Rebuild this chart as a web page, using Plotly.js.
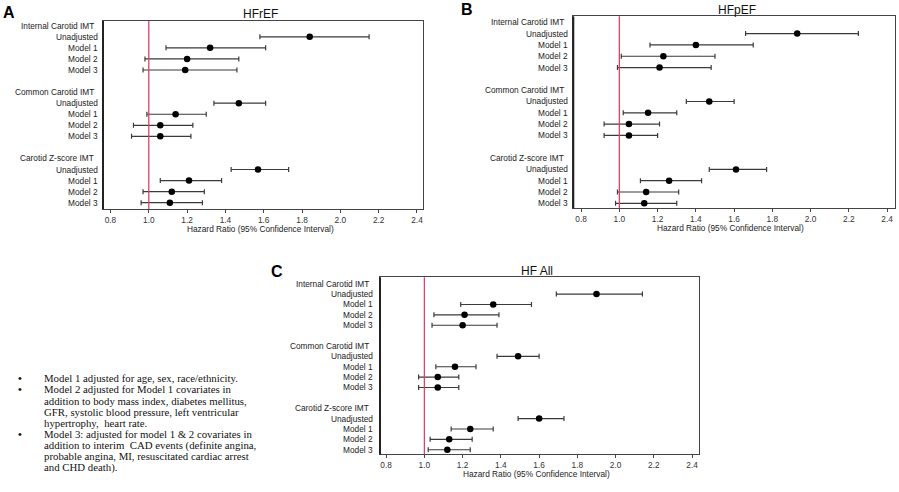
<!DOCTYPE html>
<html>
<head>
<meta charset="utf-8">
<script src="https://cdn.plot.ly/plotly-3.0.1.min.js"></script>
<style>
  html, body { margin: 0; padding: 0; background: #fff; }
  #chart { width: 899px; height: 492px; }
</style>
</head>
<body>
<div id="chart"></div>
<script>
// ---------------- DATA ----------------
const groups = ["Internal Carotid IMT", "Common Carotid IMT", "Carotid Z-score IMT"];
const models = ["Unadjusted", "Model 1", "Model 2", "Model 3"];
const panelTitles = ["HFrEF", "HFpEF", "HF All"];
const panelLetters = ["A", "B", "C"];
const xTitle = "Hazard Ratio (95% Confidence Interval)";
const tickVals = [0.8, 1.0, 1.2, 1.4, 1.6, 1.8, 2.0, 2.2, 2.4];
const refValue = 1.0;

// order: Internal (Unadj, M1, M2, M3), Common (...), Z-score (...)
const hfrefHR = [1.84, 1.32, 1.20, 1.19, 1.47, 1.14, 1.06, 1.06, 1.57, 1.21, 1.12, 1.11];
const hfrefLo = [1.58, 1.09, 0.98, 0.97, 1.34, 0.99, 0.92, 0.91, 1.43, 1.06, 0.97, 0.96];
const hfrefHi = [2.15, 1.61, 1.47, 1.46, 1.61, 1.30, 1.23, 1.22, 1.73, 1.38, 1.29, 1.28];

const hfpefHR = [1.93, 1.40, 1.23, 1.21, 1.47, 1.15, 1.05, 1.05, 1.61, 1.26, 1.14, 1.13];
const hfpefLo = [1.66, 1.16, 1.01, 0.99, 1.35, 1.02, 0.92, 0.92, 1.47, 1.11, 0.99, 0.98];
const hfpefHi = [2.25, 1.70, 1.50, 1.48, 1.60, 1.30, 1.21, 1.20, 1.77, 1.43, 1.31, 1.30];

const hfallHR = [1.90, 1.36, 1.21, 1.20, 1.49, 1.16, 1.07, 1.07, 1.60, 1.24, 1.13, 1.12];
const hfallLo = [1.69, 1.19, 1.05, 1.04, 1.38, 1.06, 0.97, 0.97, 1.49, 1.14, 1.03, 1.02];
const hfallHi = [2.14, 1.56, 1.39, 1.38, 1.60, 1.27, 1.18, 1.18, 1.73, 1.36, 1.25, 1.24];

const notes = [
  ["Model 1 adjusted for age, sex, race/ethnicity."],
  ["Model 2 adjusted for Model 1 covariates in",
   "addition to body mass index, diabetes mellitus,",
   "GFR, systolic blood pressure, left ventricular",
   "hypertrophy,  heart rate."],
  ["Model 3: adjusted for model 1 & 2 covariates in",
   "addition to interim  CAD events (definite angina,",
   "probable angina, MI, resuscitated cardiac arrest",
   "and CHD death)."]
];

// ---------------- LAYOUT GEOMETRY (pixels) ----------------
const W = 899, H = 492;
const panels = [
  { hr: hfrefHR, lo: hfrefLo, hi: hfrefHi, box: [103, 21, 423.3, 209], xr: [0.761, 2.433], yr: [16.57, -0.43],
    title: [260, 13.5], letter: [9, 13], xt: [260.5, 229], lab: 100, head: 96 },
  { hr: hfpefHR, lo: hfpefLo, hi: hfpefHi, box: [573.3, 16.3, 895.3, 208.3], xr: [0.759, 2.443], yr: [16.44, -0.53],
    title: [737, 10], letter: [467, 9], xt: [730, 228], lab: 569.5, head: 565.5 },
  { hr: hfallHR, lo: hfallLo, hi: hfallHi, box: [380, 277.3, 699, 454.3], xr: [0.768, 2.436], yr: [16.44, -0.62],
    title: [537, 271], letter: [277, 271], xt: [536, 473.5], lab: 375, head: 371 }
];

const px = x => x / W;
const py = y => 1 - y / H;

function rowPos(g, m) { return g * 6 + 1 + m; }
function headPos(g) { return g * 6; }

const traces = [];
const annotations = [];
const shapes = [];
const layout = {
  width: W, height: H,
  margin: { l: 0, r: 0, t: 0, b: 0 },
  paper_bgcolor: "#fff", plot_bgcolor: "#fff",
  showlegend: false,
  font: { family: "Liberation Sans, Arial, sans-serif", color: "#222" }
};

panels.forEach((p, i) => {
  const sfx = i === 0 ? "" : String(i + 1);
  const xa = "x" + sfx, ya = "y" + sfx;
  const ys = [];
  groups.forEach((g, gi) => models.forEach((m, mi) => { ys.push(rowPos(gi, mi)); }));

  traces.push({
    type: "scatter", mode: "markers",
    x: p.hr, y: ys, xaxis: xa, yaxis: ya,
    marker: { color: "#000", size: 6.5 },
    error_x: {
      type: "data", symmetric: false,
      array: p.hr.map((v, k) => p.hi[k] - v),
      arrayminus: p.hr.map((v, k) => v - p.lo[k]),
      color: "#3a3a3a", thickness: 1.2, width: 2.5
    },
    hoverinfo: "skip"
  });

  const [x0, y0, x1, y1] = p.box;
  layout["xaxis" + sfx] = {
    domain: [px(x0), px(x1)], anchor: ya, range: p.xr,
    tickvals: tickVals, ticktext: tickVals.map(v => v.toFixed(1)),
    ticks: "outside", ticklen: 3, tickwidth: 1, tickcolor: "#444",
    tickfont: { size: 8.3, color: "#333" },
    showline: true, mirror: true, linecolor: "#444", linewidth: 1,
    showgrid: false, zeroline: false, fixedrange: true
  };
  layout["yaxis" + sfx] = {
    domain: [py(y1), py(y0)], anchor: xa, range: p.yr,
    showticklabels: false, ticks: "",
    showline: true, mirror: true, linecolor: "#444", linewidth: 1,
    showgrid: false, zeroline: false, fixedrange: true
  };

  // thicker left frame edge
  shapes.push({ type: "line", xref: "paper", yref: "paper", x0: px(x0), x1: px(x0), y0: py(y1), y1: py(y0),
    line: { color: "#222", width: 2 } });
  // reference line at HR = 1
  shapes.push({ type: "line", xref: xa, yref: ya + " domain", x0: refValue, x1: refValue, y0: 0, y1: 1,
    line: { color: "#e0406a", width: 1.3 } });

  // row labels
  groups.forEach((g, gi) => {
    annotations.push({ xref: "paper", yref: ya, x: px(p.head), y: headPos(gi), text: g, showarrow: false,
      xanchor: "right", yanchor: "middle", font: { size: 8.3, color: "#222" } });
    models.forEach((m, mi) => {
      annotations.push({ xref: "paper", yref: ya, x: px(p.lab), y: rowPos(gi, mi), text: m, showarrow: false,
        xanchor: "right", yanchor: "middle", font: { size: 8.3, color: "#222" } });
    });
  });

  // panel title
  annotations.push({ xref: "paper", yref: "paper", x: px(p.title[0]), y: py(p.title[1]), text: panelTitles[i],
    showarrow: false, xanchor: "center", yanchor: "middle", font: { size: 12, color: "#111" } });
  // panel letter
  annotations.push({ xref: "paper", yref: "paper", x: px(p.letter[0]), y: py(p.letter[1]), text: "<b>" + panelLetters[i] + "</b>",
    showarrow: false, xanchor: "center", yanchor: "middle", font: { size: 16, color: "#000" } });
  // x-axis title
  annotations.push({ xref: "paper", yref: "paper", x: px(p.xt[0]), y: py(p.xt[1]), text: xTitle,
    showarrow: false, xanchor: "center", yanchor: "middle", font: { size: 8.3, color: "#222" } });
});

// notes
const noteY0 = 378.3, noteStep = 11.17;
const serif = "Liberation Serif, Times New Roman, serif";
let line = 0;
notes.forEach(item => {
  item.forEach((txt, k) => {
    const y = noteY0 + line * noteStep;
    if (k === 0) {
      annotations.push({ xref: "paper", yref: "paper", x: px(20), y: py(y), text: "<b>•</b>", showarrow: false,
        xanchor: "center", yanchor: "middle", font: { family: serif, size: 10.8, color: "#111" } });
    }
    annotations.push({ xref: "paper", yref: "paper", x: px(41.7), y: py(y), text: txt, showarrow: false,
      xanchor: "left", yanchor: "middle", font: { family: serif, size: 10.8, color: "#111" } });
    line++;
  });
});

layout.annotations = annotations;
layout.shapes = shapes;

Plotly.newPlot("chart", traces, layout, { displayModeBar: false, staticPlot: true });
</script>
</body>
</html>
